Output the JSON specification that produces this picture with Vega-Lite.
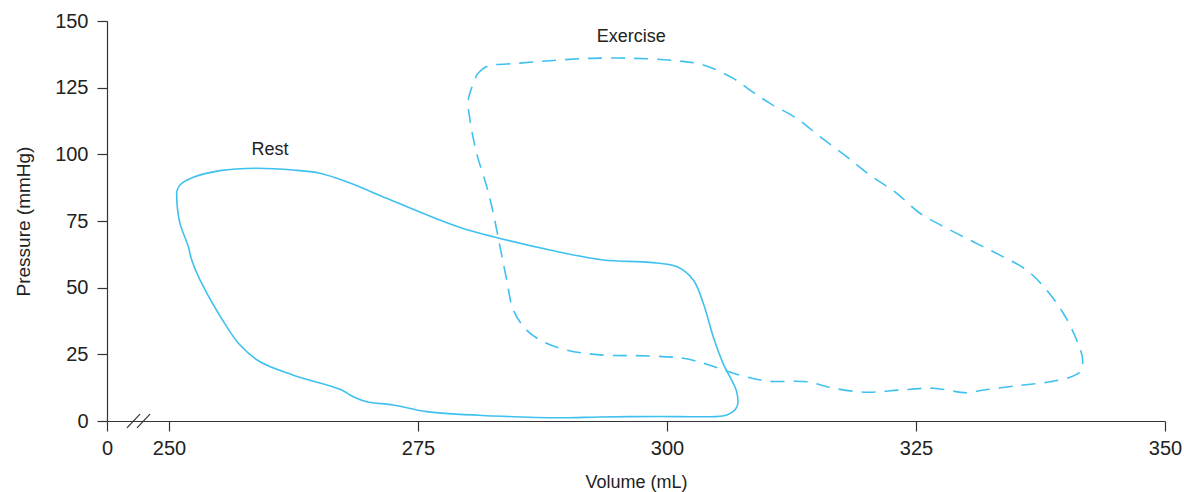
{
  "$schema": "https://vega.github.io/schema/vega-lite/v6.json",
  "width": 1058,
  "height": 400,
  "autosize": "none",
  "padding": {"left": 107, "top": 21, "right": 19, "bottom": 71},
  "config": {"view": {"stroke": null}, "font": "Liberation Sans"},
  "datasets": {
    "rest": [
      {"i": 1, "v": 250.77, "p": 86.0},
      {"i": 2, "v": 251.10, "p": 88.5},
      {"i": 3, "v": 252.44, "p": 91.4},
      {"i": 4, "v": 255.12, "p": 93.9},
      {"i": 5, "v": 258.81, "p": 94.8},
      {"i": 6, "v": 262.48, "p": 94.1},
      {"i": 7, "v": 265.16, "p": 92.9},
      {"i": 8, "v": 267.84, "p": 89.7},
      {"i": 9, "v": 271.86, "p": 83.5},
      {"i": 10, "v": 275.87, "p": 77.3},
      {"i": 11, "v": 279.22, "p": 72.6},
      {"i": 12, "v": 282.56, "p": 69.1},
      {"i": 13, "v": 288.25, "p": 64.1},
      {"i": 14, "v": 293.60, "p": 60.4},
      {"i": 15, "v": 298.29, "p": 59.5},
      {"i": 16, "v": 300.97, "p": 57.9},
      {"i": 17, "v": 302.64, "p": 52.9},
      {"i": 18, "v": 303.65, "p": 44.1},
      {"i": 19, "v": 304.65, "p": 31.5},
      {"i": 20, "v": 305.65, "p": 21.4},
      {"i": 21, "v": 307.00, "p": 10.9},
      {"i": 22, "v": 307.03, "p": 5.4},
      {"i": 23, "v": 306.00, "p": 2.25},
      {"i": 24, "v": 303.30, "p": 1.6},
      {"i": 25, "v": 299.30, "p": 1.7},
      {"i": 26, "v": 293.27, "p": 1.5},
      {"i": 27, "v": 289.26, "p": 1.2},
      {"i": 28, "v": 282.56, "p": 1.9},
      {"i": 29, "v": 275.87, "p": 3.5},
      {"i": 30, "v": 272.52, "p": 6.0},
      {"i": 31, "v": 269.85, "p": 7.2},
      {"i": 32, "v": 268.50, "p": 9.1},
      {"i": 33, "v": 267.17, "p": 11.9},
      {"i": 34, "v": 262.48, "p": 17.2},
      {"i": 35, "v": 259.14, "p": 22.2},
      {"i": 36, "v": 257.13, "p": 28.5},
      {"i": 37, "v": 255.79, "p": 35.4},
      {"i": 38, "v": 253.11, "p": 52.9},
      {"i": 39, "v": 252.28, "p": 60.4},
      {"i": 40, "v": 251.94, "p": 65.4},
      {"i": 41, "v": 251.10, "p": 74.1},
      {"i": 42, "v": 250.83, "p": 80.4},
      {"i": 43, "v": 250.77, "p": 86.0}
    ],
    "exercise": [
      {"i": 1, "v": 280.89, "p": 129.75},
      {"i": 2, "v": 281.90, "p": 132.9},
      {"i": 3, "v": 284.91, "p": 134.1},
      {"i": 4, "v": 288.25, "p": 135.1},
      {"i": 5, "v": 292.27, "p": 136.0},
      {"i": 6, "v": 296.62, "p": 136.0},
      {"i": 7, "v": 300.97, "p": 135.1},
      {"i": 8, "v": 303.65, "p": 133.5},
      {"i": 9, "v": 306.66, "p": 128.5},
      {"i": 10, "v": 308.33, "p": 124.1},
      {"i": 11, "v": 310.34, "p": 119.1},
      {"i": 12, "v": 313.02, "p": 113.5},
      {"i": 13, "v": 315.36, "p": 106.6},
      {"i": 14, "v": 318.04, "p": 99.1},
      {"i": 15, "v": 320.38, "p": 92.2},
      {"i": 16, "v": 323.06, "p": 85.4},
      {"i": 17, "v": 325.40, "p": 77.9},
      {"i": 18, "v": 328.08, "p": 72.3},
      {"i": 19, "v": 330.75, "p": 67.2},
      {"i": 20, "v": 333.43, "p": 62.2},
      {"i": 21, "v": 336.11, "p": 56.6},
      {"i": 22, "v": 338.12, "p": 49.1},
      {"i": 23, "v": 339.79, "p": 40.4},
      {"i": 24, "v": 341.13, "p": 30.4},
      {"i": 25, "v": 341.74, "p": 22.9},
      {"i": 26, "v": 341.47, "p": 18.5},
      {"i": 27, "v": 340.46, "p": 16.4},
      {"i": 28, "v": 338.45, "p": 14.7},
      {"i": 29, "v": 335.11, "p": 13.2},
      {"i": 30, "v": 331.76, "p": 11.6},
      {"i": 31, "v": 330.09, "p": 10.6},
      {"i": 32, "v": 326.74, "p": 12.3},
      {"i": 33, "v": 323.39, "p": 11.6},
      {"i": 34, "v": 320.05, "p": 10.8},
      {"i": 35, "v": 316.70, "p": 12.3},
      {"i": 36, "v": 314.03, "p": 14.7},
      {"i": 37, "v": 310.01, "p": 15.0},
      {"i": 38, "v": 306.66, "p": 17.9},
      {"i": 39, "v": 303.99, "p": 21.3},
      {"i": 40, "v": 301.64, "p": 23.5},
      {"i": 41, "v": 298.29, "p": 24.4},
      {"i": 42, "v": 293.27, "p": 24.8},
      {"i": 43, "v": 289.93, "p": 26.6},
      {"i": 44, "v": 287.58, "p": 29.7},
      {"i": 45, "v": 285.91, "p": 34.1},
      {"i": 46, "v": 284.57, "p": 41.6},
      {"i": 47, "v": 283.91, "p": 52.9},
      {"i": 48, "v": 283.23, "p": 65.4},
      {"i": 49, "v": 282.56, "p": 77.9},
      {"i": 50, "v": 281.90, "p": 87.9},
      {"i": 51, "v": 280.89, "p": 100.4},
      {"i": 52, "v": 280.22, "p": 112.9},
      {"i": 53, "v": 280.05, "p": 120.4},
      {"i": 54, "v": 280.89, "p": 129.75}
    ],
    "labels": [
      {"v": 260.14, "p": 101.5, "t": "Rest"},
      {"v": 296.4, "p": 144.0, "t": "Exercise"}
    ],
    "breaks": [
      {"v": 245.78, "p": -2.6, "v2": 247.09, "p2": 2.6},
      {"v": 246.79, "p": -2.6, "v2": 248.09, "p2": 2.6}
    ]
  },
  "encoding": {
    "x": {
      "field": "v", "type": "quantitative",
      "scale": {"domain": [243.775, 350], "nice": false, "zero": false},
      "axis": {
        "title": "Volume (mL)",
        "values": [243.775, 250, 275, 300, 325, 350],
        "labelExpr": "datum.value < 249 ? '0' : format(datum.value, 'd')",
        "grid": false,
        "tickSize": 10,
        "labelFontSize": 20,
        "labelColor": "#222222",
        "labelPadding": 7,
        "labelFlush": false,
        "labelOverlap": false,
        "domainColor": "#333333",
        "tickColor": "#333333",
        "domainWidth": 1.2,
        "tickWidth": 1.2,
        "titleFontSize": 18,
        "titleFontWeight": "normal",
        "titleColor": "#222222",
        "titlePadding": 15
      }
    },
    "y": {
      "field": "p", "type": "quantitative",
      "scale": {"domain": [0, 150], "nice": false},
      "axis": {
        "title": "Pressure (mmHg)",
        "values": [0, 25, 50, 75, 100, 125, 150],
        "grid": false,
        "tickSize": 10,
        "labelFontSize": 20,
        "labelColor": "#222222",
        "labelPadding": 9,
        "labelFlush": false,
        "labelOverlap": false,
        "domainColor": "#333333",
        "tickColor": "#333333",
        "domainWidth": 1.2,
        "tickWidth": 1.2,
        "titleFontSize": 19,
        "titleFontWeight": "normal",
        "titleColor": "#222222",
        "titlePadding": 21
      }
    }
  },
  "layer": [
    {
      "data": {"name": "rest"},
      "mark": {"type": "line", "interpolate": "catmull-rom", "color": "#3fc1ef", "strokeWidth": 1.6, "clip": false},
      "encoding": {
        "order": {"field": "i", "type": "quantitative"}
      }
    },
    {
      "data": {"name": "exercise"},
      "mark": {"type": "line", "interpolate": "catmull-rom", "color": "#3fc1ef", "strokeWidth": 1.6, "strokeDash": [14, 9], "clip": false},
      "encoding": {
        "order": {"field": "i", "type": "quantitative"}
      }
    },
    {
      "data": {"name": "labels"},
      "mark": {"type": "text", "fontSize": 18, "color": "#222222", "align": "center", "baseline": "middle"},
      "encoding": {
        "text": {"field": "t", "type": "nominal"}
      }
    },
    {
      "data": {"name": "breaks"},
      "mark": {"type": "rule", "color": "#333333", "strokeWidth": 1.2, "clip": false},
      "encoding": {
        "x2": {"field": "v2"},
        "y2": {"field": "p2"}
      }
    }
  ]
}
